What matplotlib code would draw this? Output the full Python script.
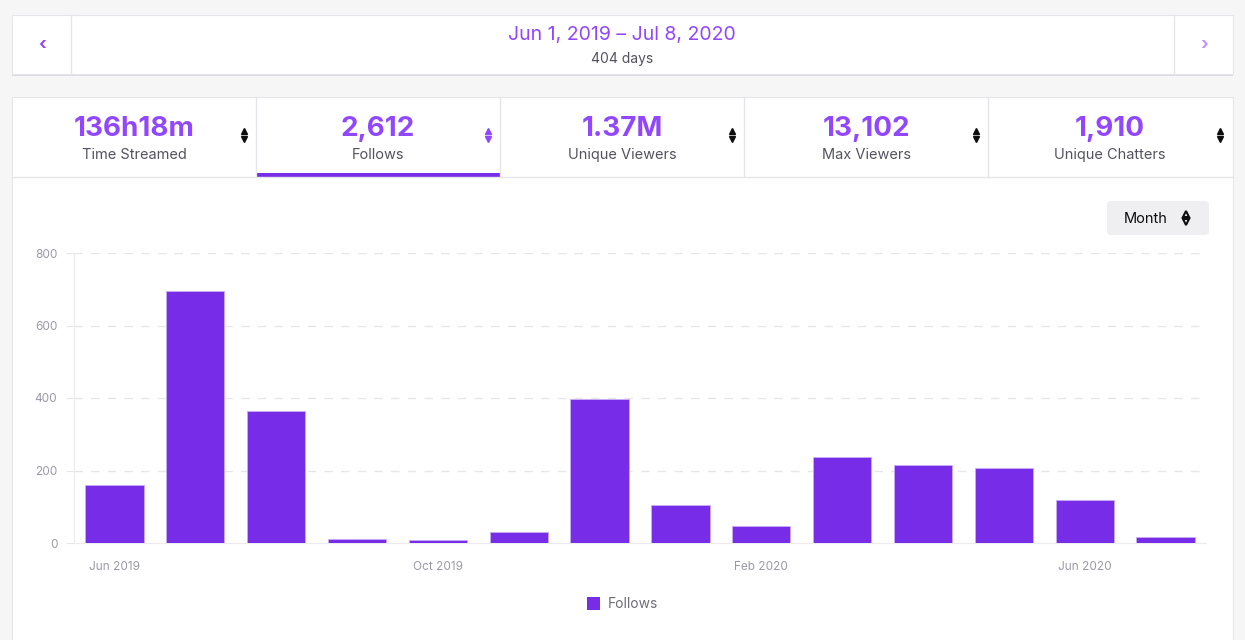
import matplotlib
matplotlib.use("Agg")
import matplotlib.pyplot as plt
from matplotlib.patches import Rectangle, FancyBboxPatch

plt.rcParams["font.family"] = ["Inter", "DejaVu Sans"]

# ---------------------------------------------------------------- data
months = ["Jun 2019", "Jul 2019", "Aug 2019", "Sep 2019", "Oct 2019", "Nov 2019", "Dec 2019",
          "Jan 2020", "Feb 2020", "Mar 2020", "Apr 2020", "May 2020", "Jun 2020", "Jul 2020"]
follows = [160, 695, 364, 11, 8, 30, 397, 105, 47, 237, 215, 207, 119, 17]
tick_months = ["Jun 2019", "Oct 2019", "Feb 2020", "Jun 2020"]
y_ticks = [0, 200, 400, 600, 800]

stat_values = ["136h18m", "2,612", "1.37M", "13,102", "1,910"]
stat_labels = ["Time Streamed", "Follows", "Unique Viewers", "Max Viewers", "Unique Chatters"]
active_tab = 1

date_range = "Jun 1, 2019 \u2013 Jul 8, 2020"
days_text = "404 days"

PURPLE = "#772ce8"
PURPLE_TXT = "#9147ff"
GREY_TXT = "#53535f"
AXIS_TXT = "#9a9aa6"
BORDER = "#e6e6ea"

W, H = 1245, 640
fig = plt.figure(figsize=(W / 100, H / 100), dpi=100)
fig.patch.set_facecolor("#f6f6f7")

# pixel-space background axes for the page cards
bg = fig.add_axes([0, 0, 1, 1])
bg.set_xlim(0, W)
bg.set_ylim(H, 0)
bg.axis("off")

# top date card (with a faint shadow)
bg.add_patch(Rectangle((12, 17), 1221, 59, facecolor="#dcdce0", edgecolor="none"))
bg.add_patch(Rectangle((12, 15), 1221, 59, facecolor="white", edgecolor=BORDER, lw=0.8))
for x in (71, 1174):
    bg.plot([x, x], [15, 74], color=BORDER, lw=1)
bg.text(42, 45, "\u2039", color=PURPLE_TXT, fontsize=13, fontweight="bold", ha="center", va="center")
bg.text(1204, 45, "\u203a", color="#bf94ff", fontsize=13, fontweight="bold", ha="center", va="center")
bg.text(622, 35, date_range, color=PURPLE_TXT, fontsize=14, ha="center", va="center")
bg.text(622, 59, days_text, color=GREY_TXT, fontsize=10, ha="center", va="center")

# main card
bg.add_patch(Rectangle((12, 97), 1221, 560, facecolor="white", edgecolor=BORDER, lw=0.8))
bg.plot([12, 1233], [177, 177], color=BORDER, lw=1)
tab_w = 244
for i, (val, lab) in enumerate(zip(stat_values, stat_labels)):
    x0 = 12 + i * tab_w
    if i > 0:
        bg.plot([x0, x0], [97, 177], color=BORDER, lw=1)
    cx = x0 + 122
    bg.text(cx, 129, val, color=PURPLE_TXT, fontsize=20, fontweight="bold", ha="center", va="center")
    bg.text(cx, 155, lab, color=GREY_TXT, fontsize=10.5, ha="center", va="center")
    arrow_col = PURPLE_TXT if i == active_tab else "#0e0e10"
    bg.plot([x0 + 232], [131], marker="^", ms=4.5, color=arrow_col, ls="none")
    bg.plot([x0 + 232], [139], marker="v", ms=4.5, color=arrow_col, ls="none")
    if i == active_tab:
        bg.add_patch(Rectangle((x0 + 1, 173), tab_w - 1, 4, facecolor=PURPLE, edgecolor="none"))

# Month selector
bg.add_patch(FancyBboxPatch((1107, 201), 102, 34, boxstyle="round,pad=0,rounding_size=4",
                            facecolor="#efeff1", edgecolor="none"))
bg.text(1146, 219, "Month", color="#0e0e10", fontsize=10.5, ha="center", va="center")
bg.plot([1186], [214], marker="^", ms=5, color="#0e0e10", ls="none", mfc="none", mew=1.5)
bg.plot([1186], [222], marker="v", ms=5, color="#0e0e10", ls="none", mfc="none", mew=1.5)

# legend
bg.add_patch(Rectangle((587, 597), 13, 13, facecolor=PURPLE, edgecolor="none"))
bg.text(608, 604, "Follows", color="#6e6e7a", fontsize=10, ha="left", va="center")

# ---------------------------------------------------------------- chart
left, right, top, bottom = 74, 1206, 253, 543
ax = fig.add_axes([left / W, (H - bottom) / H, (right - left) / W, (bottom - top) / H])
ax.set_facecolor("none")
xs = list(range(len(months)))
ax.bar(xs, follows, width=0.72, color=PURPLE, edgecolor="#c9adf5", linewidth=0.6, zorder=3)
ax.set_xlim(-0.5, len(months) - 0.5)
ax.set_ylim(0, 800)
ax.set_yticks(y_ticks)
ax.set_yticklabels([str(v) for v in y_ticks])
ax.set_xticks([months.index(m) for m in tick_months])
ax.set_xticklabels(tick_months)
for v in y_ticks[1:]:
    ax.axhline(v, color="#e6e6ea", lw=1, ls=(0, (6, 6)), zorder=1)
for s in ("top", "right"):
    ax.spines[s].set_visible(False)
ax.spines["left"].set_color("#ececef")
ax.spines["bottom"].set_color("#ececef")
ax.tick_params(axis="y", length=6, color="#e6e6ea", labelcolor=AXIS_TXT, labelsize=8.5, pad=6)
ax.tick_params(axis="x", length=0, labelcolor=AXIS_TXT, labelsize=8.5, pad=13)

fig.savefig("out.png", dpi=100, facecolor=fig.get_facecolor())
